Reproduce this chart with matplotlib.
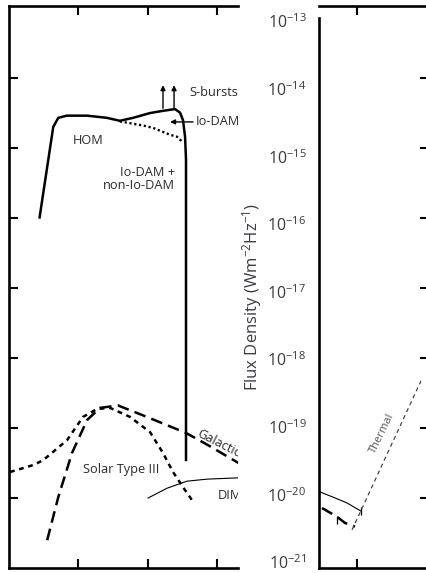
import matplotlib
matplotlib.use("Agg")
import matplotlib.pyplot as plt

plt.rcParams['font.family'] = ['Open Sans', 'DejaVu Sans']
plt.rcParams['mathtext.fontset'] = 'custom'
plt.rcParams['mathtext.rm'] = 'Open Sans'
plt.rcParams['mathtext.it'] = 'Open Sans:italic'
plt.rcParams['mathtext.bf'] = 'Open Sans:bold'
plt.rcParams['lines.scale_dashes'] = False

# left panel: frequency (MHz) vs flux density (W m^-2 Hz^-1)
hom_freq = [0.28, 0.44, 0.52, 0.69, 1.35, 2.6, 4.0, 6.2, 10.9, 16.7, 24.9, 29.4, 32.4, 34.7, 35.8, 35.8]
hom_flux = [1.02e-16, 2.0e-15, 2.7e-15, 2.9e-15, 2.9e-15, 2.7e-15, 2.45e-15, 2.7e-15,
            3.16e-15, 3.4e-15, 3.6e-15, 3.2e-15, 2.5e-15, 1.45e-15, 6.8e-16, 3.5e-20]

hom_ext_freq = [4.0, 8.6, 12.0, 16.7, 21.0, 26.6, 32.4]
hom_ext_flux = [2.4e-15, 2.1e-15, 1.94e-15, 1.7e-15, 1.55e-15, 1.45e-15, 1.2e-15]

gal_freq = [0.36, 0.52, 0.82, 1.35, 2.07, 3.77, 9.8, 35.8, 71.8, 200, 253]
gal_flux = [2.5e-21, 1.03e-20, 4.4e-20, 1.3e-19, 1.94e-19, 2.1e-19, 1.44e-19,
            8.5e-20, 5.8e-20, 3.2e-20, 2.9e-20]

sol_freq = [0.105, 0.225, 0.313, 0.695, 1.18, 1.88, 2.89, 5.6, 10.9, 16.7, 23.3, 32.4, 43.7]
sol_flux = [2.35e-20, 2.95e-20, 3.45e-20, 6.7e-20, 1.44e-19, 1.87e-19, 1.94e-19,
            1.44e-19, 8.7e-20, 4.4e-20, 2.35e-20, 1.43e-20, 9.3e-21]

dim_freq = [10.2, 19.1, 37.0, 71.8, 200, 253]
dim_flux = [1.0e-20, 1.38e-20, 1.74e-20, 1.86e-20, 1.94e-20, 1.94e-20]

sburst_freq = [16.7, 24.1]

# right panel
dim2_freq = [259, 296, 454, 719, 1140]
dim2_flux = [1.3e-20, 1.22e-20, 1.03e-20, 8.5e-21, 6.5e-21]

gal2_freq = [316, 518, 674, 936]
gal2_flux = [7.2e-21, 5.4e-21, 4.4e-21, 3.9e-21]

therm_freq = [849, 8200]
therm_flux = [3.5e-21, 4.7e-19]

decades = list(range(-21, -12))
tick_labels = ["$10^{%d}$" % d for d in decades]

W, H = 427, 573


def box(x0, y0, x1, y1):
    return [x0 / W, 1 - y1 / H, (x1 - x0) / W, (y1 - y0) / H]


fig = plt.figure(figsize=(W / 100, H / 100), dpi=100)
fig.patch.set_facecolor("white")

ax1 = fig.add_axes(box(9, 6, 238, 568))
ax2 = fig.add_axes(box(319, 6, 429, 568))
# the labels of the right panel sit on a slightly tighter scale than its ticks
ax3 = fig.add_axes(box(319, 21, 429, 562))

for ax in (ax1, ax2, ax3):
    ax.set_xscale("log")
    ax.set_yscale("log")
    for s in ax.spines.values():
        s.set_linewidth(1.9)

ax1.set_ylim(1e-21, 10 ** -12.971)
ax2.set_ylim(1e-21, 10 ** -12.971)
ax3.set_ylim(1e-21, 1e-13)

ax1.set_xlim(10 ** -0.993, 10 ** 2.302)
ax2.set_xlim(10 ** 2.457, 10 ** 4.029)

# ---- left panel
ax1.spines["right"].set_visible(False)
ax1.plot(hom_freq, hom_flux, color="k", lw=1.8)
ax1.plot(hom_ext_freq, hom_ext_flux, color="k", lw=1.7, dashes=(1.6, 1.9))
ax1.plot(gal_freq, gal_flux, color="k", lw=1.8, dashes=(8.5, 4.5))
ax1.plot(sol_freq, sol_flux, color="k", lw=1.8, dashes=(3.5, 3.3))
ax1.plot(dim_freq, dim_flux, color="k", lw=0.8)

for f in sburst_freq:
    ax1.annotate("", xy=(f, 7.9e-15), xytext=(f, 3.7e-15),
                 arrowprops=dict(arrowstyle="-|>", lw=1.0, color="k",
                                 mutation_scale=7, shrinkA=0, shrinkB=0))
ax1.annotate("", xy=(21.1, 2.36e-15), xytext=(45.2, 2.36e-15),
             arrowprops=dict(arrowstyle="-|>", lw=1.0, color="k",
                             mutation_scale=7, shrinkA=0, shrinkB=0))

tc = "#2a2a2a"
fs = 9.2
ax1.text(39.5, 6.3e-15, "S-bursts", fontsize=fs, color=tc, ha="left", va="center", clip_on=True)
ax1.text(49.9, 2.36e-15, "Io-DAM", fontsize=fs, color=tc, ha="left", va="center", clip_on=True)
ax1.text(1.39, 1.3e-15, "HOM", fontsize=fs, color=tc, ha="center", va="center")
ax1.text(24.9, 4.5e-16, "Io-DAM +", fontsize=fs, color=tc, ha="right", va="center")
ax1.text(24.9, 2.95e-16, "non-Io-DAM", fontsize=fs, color=tc, ha="right", va="center")
ax1.text(4.16, 2.57e-20, "Solar Type III", fontsize=fs, color=tc, ha="center", va="center")
ax1.text(53.4, 8.5e-20, "Galactic", fontsize=fs, color=tc, ha="left", va="center",
         rotation=-27, rotation_mode="anchor", clip_on=True)
ax1.text(103, 1.1e-20, "DIM", fontsize=fs, color=tc, ha="left", va="center", clip_on=True)

ax1.set_xticks([1, 10, 100])
ax1.set_yticks([10.0 ** d for d in range(-20, -13)])
ax1.minorticks_off()
ax1.tick_params(which="both", direction="in", length=6.5, width=1.5,
                top=True, bottom=True, left=True, right=False,
                labelleft=False, labelbottom=False)

# ---- right panel
ax2.spines["left"].set_bounds(1e-21, 10 ** -13.14)
ax2.plot(dim2_freq, dim2_flux, color="k", lw=0.8)
ax2.plot(dim2_freq[-1], dim2_flux[-1], marker="|", ms=6, mew=0.9, color="k")
ax2.plot(gal2_freq, gal2_flux, color="k", lw=1.8, dashes=(8.5, 4.5))
ax2.plot(gal2_freq[1], gal2_flux[1] * 0.9, marker="|", ms=6, mew=0.9, color="k")
ax2.plot(therm_freq, therm_flux, color="#444444", lw=0.9, dashes=(3, 2.5))
ax2.text(2275, 8.5e-20, "Thermal", fontsize=8, color="#555555", ha="center", va="center",
         rotation=64, rotation_mode="anchor")

ax2.set_xticks([1000])
ax2.set_yticks([10.0 ** d for d in range(-20, -13)])
ax2.minorticks_off()
ax2.tick_params(axis="x", which="both", direction="in", length=6.5, width=1.5,
                top=True, bottom=True, labelbottom=False)
ax2.tick_params(axis="y", which="both", direction="in", length=6.5, width=1.5,
                left=False, right=True, labelleft=False, labelright=False)

# tick labels only, on their own scale
ax3.patch.set_visible(False)
for s in ax3.spines.values():
    s.set_visible(False)
ax3.set_xticks([])
ax3.set_yticks([10.0 ** d for d in decades])
ax3.set_yticklabels(tick_labels)
ax3.minorticks_off()
ax3.tick_params(axis="y", which="both", left=False, right=False, pad=5.5,
                labelsize=11.5, labelcolor="#3a3a3a")

fig.text(252 / W, 1 - 297 / H, "Flux Density (Wm$^{-2}$Hz$^{-1}$)", rotation=90,
         ha="center", va="center", fontsize=12, color="#3b3b45")

fig.savefig("out.png", dpi=100)
